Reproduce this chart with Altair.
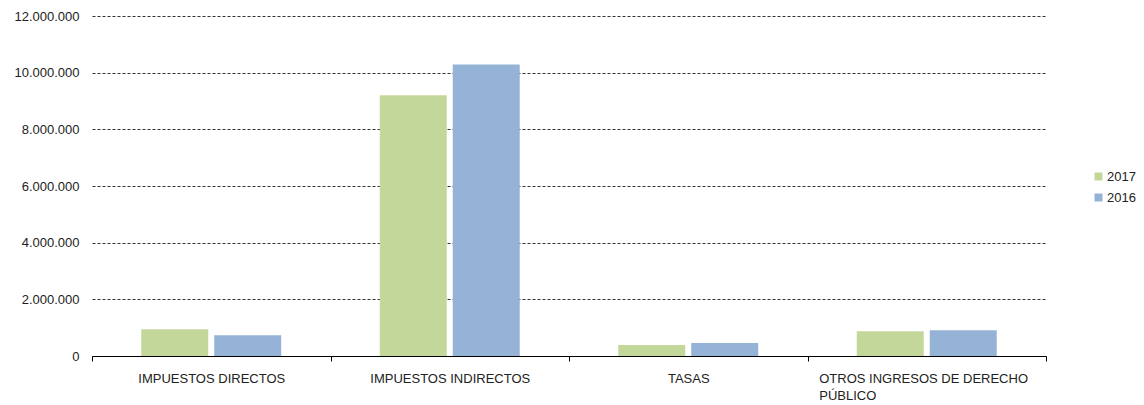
import altair as alt
import pandas as pd

categories = ["IMPUESTOS DIRECTOS", "IMPUESTOS INDIRECTOS", "TASAS", "OTROS INGRESOS DE DERECHO PÚBLICO"]
years = ["2017", "2016"]
values_2017 = [944000, 9200000, 385000, 875000]
values_2016 = [735000, 10290000, 455000, 910000]
colors = ["#c4d79b", "#95b3d7"]
y_ticks = [0, 2000000, 4000000, 6000000, 8000000, 10000000, 12000000]

rows = []
for c, v in zip(categories, values_2017):
    rows.append({"cat": c, "year": "2017", "value": v})
for c, v in zip(categories, values_2016):
    rows.append({"cat": c, "year": "2016", "value": v})
df = pd.DataFrame(rows)

long_cat = "OTROS INGRESOS DE DERECHO PÚBLICO"
is_long = "datum.value == '" + long_cat + "'"
label_expr = is_long + " ? ['OTROS INGRESOS DE DERECHO', 'PÚBLICO'] : datum.value"

chart = alt.Chart(df).mark_bar().encode(
    x=alt.X("cat:N", sort=categories, title=None,
            scale=alt.Scale(paddingInner=0, paddingOuter=0),
            axis=alt.Axis(labelAngle=0, labelExpr=label_expr, tickBand="extent",
                          tickSize=5, tickColor="#000", domainColor="#000",
                          labelPadding=11, labelFontSize=13, labelColor="#222",
                          labelFont="Liberation Sans", labelLineHeight=17,
                          labelLimit=400, grid=False,
                          labelAlign={"condition": {"test": is_long, "value": "left"}, "value": "center"},
                          labelOffset={"condition": {"test": is_long, "value": -108}, "value": 0})),
    xOffset=alt.XOffset("year:N", sort=years,
                        scale=alt.Scale(paddingInner=0.082, paddingOuter=0.675)),
    y=alt.Y("value:Q", title=None,
            scale=alt.Scale(domain=[0, 12000000]),
            axis=alt.Axis(values=y_ticks, domain=False, ticks=False, labelPadding=13,
                          labelFontSize=13, labelColor="#222", labelFont="Liberation Sans",
                          labelExpr="replace(format(datum.value, ','), /,/g, '.')",
                          gridColor="#333", gridDash=[3, 2], gridWidth=1)),
    color=alt.Color("year:N", sort=years,
                    scale=alt.Scale(domain=years, range=colors),
                    legend=alt.Legend(title=None, orient="none", legendX=1000, legendY=154,
                                      symbolType="square", symbolSize=64,
                                      symbolStrokeWidth=0, labelFontSize=13,
                                      labelFont="Liberation Sans", labelColor="#222",
                                      rowPadding=7, labelOffset=2)),
).properties(
    width=954, height=340,
    background="white",
    autosize=alt.AutoSizeParams(type="none"),
    padding={"left": 84, "top": 8, "right": 90, "bottom": 48},
).configure_view(stroke=None)

chart.save("out.html", embed_options={"renderer": "svg", "actions": False})
